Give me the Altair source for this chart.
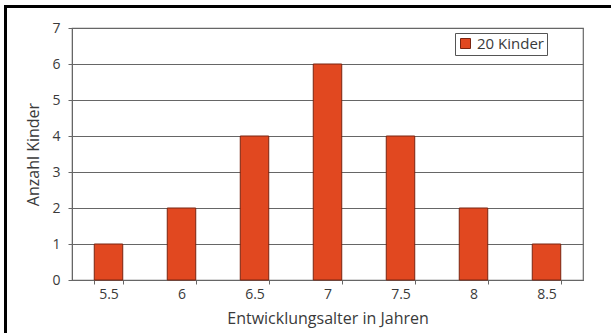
import altair as alt
import pandas as pd

# Developmental age groups (years) and number of children per group
ages = ["5.5", "6", "6.5", "7", "7.5", "8", "8.5"]
counts = [1, 2, 4, 6, 4, 2, 1]
series = ["20 Kinder"] * len(ages)

df = pd.DataFrame({"alter": ages, "anzahl": counts, "gruppe": series})

FONT = "Open Sans"
TEXT = "#3a3a3a"
GRID = "#666666"
BAR = "#e14820"

bars = alt.Chart(df).mark_bar(
    color=BAR, stroke="#7a2410", strokeWidth=1
).encode(
    x=alt.X(
        "alter:N",
        sort=ages,
        title="Entwicklungsalter in Jahren",
        scale=alt.Scale(paddingInner=0.61, paddingOuter=0.305),
        axis=alt.Axis(
            labelAngle=0,
            tickBand="extent",
            tickSize=4,
            tickColor=GRID,
            domainColor=GRID,
            labelPadding=3,
            titlePadding=9,
        ),
    ),
    y=alt.Y(
        "anzahl:Q",
        title="Anzahl Kinder",
        scale=alt.Scale(domain=[0, 7], nice=False),
        axis=alt.Axis(
            values=list(range(0, 8)),
            grid=True,
            gridColor=GRID,
            gridWidth=1.2,
            tickSize=4,
            tickColor=GRID,
            domainColor=GRID,
            labelPadding=8,
            titlePadding=10,
        ),
    ),
    color=alt.Color(
        "gruppe:N",
        scale=alt.Scale(range=[BAR]),
        legend=alt.Legend(
            title=None,
            orient="none",
            legendX=383,
            legendY=5,
            strokeColor="#555555",
            padding=3,
            symbolType="square",
            symbolSize=100,
            symbolStrokeColor="#7a2410",
            symbolStrokeWidth=1,
            labelFontSize=15,
            labelOffset=4,
            labelFont=FONT,
            labelColor=TEXT,
            fillColor="white",
        ),
    ),
)

# Black frame along the left and top edge of the figure
frame = pd.DataFrame({"k": [0]})
left_edge = alt.Chart(frame).mark_rule(color="black", strokeWidth=3).encode(
    x=alt.value(-66.5), y=alt.value(-23), y2=alt.value(306)
)
top_edge = alt.Chart(frame).mark_rule(color="black", strokeWidth=3).encode(
    x=alt.value(-68), x2=alt.value(540), y=alt.value(-21.5)
)

chart = alt.layer(bars, left_edge, top_edge).properties(
    width=511,
    height=252,
    autosize=alt.AutoSizeParams(type="none"),
    padding={"left": 72, "top": 28, "right": 28, "bottom": 53},
    background="white",
).configure_view(
    stroke=GRID, strokeWidth=1.2
).configure_axis(
    labelFont=FONT,
    titleFont=FONT,
    labelFontSize=14,
    titleFontSize=16,
    titleFontWeight="normal",
    labelColor=TEXT,
    titleColor=TEXT,
)

chart.save("out.html", embed_options={"renderer": "svg", "actions": False})
